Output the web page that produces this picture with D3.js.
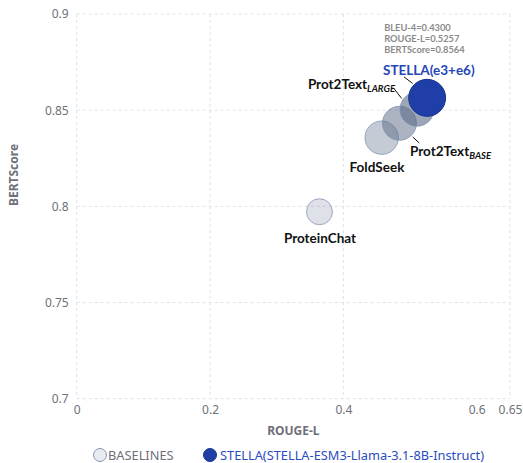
<!DOCTYPE html>
<html><head><meta charset="utf-8">
<script src="https://cdn.jsdelivr.net/npm/d3@7/dist/d3.min.js"></script>
<style>body{margin:0;background:#fff}svg{display:block}</style>
</head><body><svg id="c" width="523" height="463"></svg>
<script>
// ---- data ----
const models = ["ProteinChat", "FoldSeek", "Prot2Text_BASE", "Prot2Text_LARGE", "STELLA(e3+e6)"];
const groups = ["BASELINES", "BASELINES", "BASELINES", "BASELINES", "STELLA"];
const rougeL = [0.3642, 0.4575, 0.4842, 0.5105, 0.5257];
const bertScore = [0.7972, 0.8357, 0.8432, 0.8505, 0.8564];
const bleu4 = [0.066, 0.311, 0.331, 0.331, 0.4300];
const xTicks = [0, 0.2, 0.4, 0.6, 0.65];
const xGrid = [0, 0.2, 0.4, 0.65];
const yTicks = [0.7, 0.75, 0.8, 0.85, 0.9];
const legendLabels = ["BASELINES", "STELLA(STELLA-ESM3-Llama-3.1-8B-Instruct)"];

// ---- layout ----
const svg = d3.select("#c");
const L = 76.7, R = 510, T = 14, B = 398.7;
const x = d3.scaleLinear().domain([0, 0.65]).range([L, R]);
const y = d3.scaleLinear().domain([0.7, 0.9]).range([B, T]);
const r = d3.scaleLinear().domain([0, 0.43]).range([12, 18.5]);
const axisColor = "#6e7079";
const tickFont = "'Noto Sans', sans-serif";
const labelFont = "Lato, 'Open Sans', sans-serif";

// grid
const g = svg.append("g");
g.selectAll(".hg").data(yTicks).join("line")
  .attr("x1", L).attr("x2", R).attr("y1", d => y(d)).attr("y2", d => y(d))
  .attr("stroke", "#dde1ec").attr("stroke-width", 1).attr("stroke-dasharray", "3,3");
g.selectAll(".vg").data(xGrid).join("line")
  .attr("y1", T).attr("y2", B).attr("x1", d => x(d)).attr("x2", d => x(d))
  .attr("stroke", "#dde1ec").attr("stroke-width", 1).attr("stroke-dasharray", "3,3");

// axes via d3 axis
const xAxis = svg.append("g").attr("transform", `translate(0,${B})`)
  .call(d3.axisBottom(x).tickValues(xTicks).tickSize(0).tickPadding(7).tickFormat(d => String(d)));
const yAxis = svg.append("g").attr("transform", `translate(${L},0)`)
  .call(d3.axisLeft(y).tickValues(yTicks).tickSize(0).tickPadding(8).tickFormat(d => String(d)));
[xAxis, yAxis].forEach(a => {
  a.select(".domain").remove();
  a.selectAll("text").attr("fill", axisColor).style("font-family", tickFont).style("font-size", "12px");
});

// axis names
svg.append("text").attr("x", (L + R) / 2).attr("y", 435).attr("text-anchor", "middle")
  .attr("fill", axisColor).style("font-family", tickFont).style("font-size", "12px").style("font-weight", "bold")
  .text("ROUGE-L");
svg.append("text").attr("transform", "translate(18,175) rotate(-90)").attr("text-anchor", "middle")
  .attr("fill", axisColor).style("font-family", tickFont).style("font-size", "12px").style("font-weight", "bold")
  .text("BERTScore");

// bubbles
const idx = d3.range(models.length);
const baseOpacity = [0.2, 0.35, 0.5, 0.6];
const bubbles = svg.append("g");
bubbles.selectAll("circle").data(idx).join("circle")
  .attr("cx", i => x(rougeL[i])).attr("cy", i => y(bertScore[i])).attr("r", i => r(bleu4[i]))
  .attr("fill", i => groups[i] === "STELLA" ? "#1f3ea8" : "rgb(90,106,133)")
  .attr("fill-opacity", i => groups[i] === "STELLA" ? 1 : baseOpacity[i])
  .attr("stroke", i => groups[i] === "STELLA" ? "#1a3590" : "rgba(120,140,175,0.7)")
  .attr("stroke-width", 1);

// labels
const lab = svg.append("g").style("font-family", labelFont).style("font-weight", "bold");
function cx(i) { return x(rougeL[i]); }
function cy(i) { return y(bertScore[i]); }
function leader(i, x1, y1, x2, y2) {
  lab.append("line").attr("x1", cx(i) + x1).attr("y1", cy(i) + y1).attr("x2", cx(i) + x2).attr("y2", cy(i) + y2)
    .attr("stroke", "#111").attr("stroke-width", 1);
}
function modelLabel(i, dx, dy, anchor, main, sub, color) {
  const t = lab.append("text").attr("x", cx(i) + dx).attr("y", cy(i) + dy).attr("text-anchor", anchor)
    .attr("fill", color || "#111").style("font-size", "13.5px");
  t.append("tspan").text(main);
  if (sub) t.append("tspan").attr("dy", 3).style("font-size", "9.5px").style("font-style", "italic").text(sub);
}
modelLabel(0, 0.5, 31.7, "middle", "ProteinChat");
modelLabel(1, -4.7, 34, "middle", "FoldSeek");
modelLabel(2, 10.5, 33, "start", "Prot2Text", "BASE");
leader(2, 13.2, 13.7, 19.8, 19.7);
modelLabel(3, -22, -20, "end", "Prot2Text", "LARGE");
leader(3, -23.7, -21.5, -15.3, -10.7);
modelLabel(4, 1.7, -22.5, "middle", "STELLA(e3+e6)", null, "#2446b8");
leader(4, -23.2, -21, -14.5, -14.4);

// annotation for STELLA
const s = 4;
const ann = [`BLEU-4=${bleu4[s].toFixed(4)}`, `ROUGE-L=${rougeL[s].toFixed(4)}`, `BERTScore=${bertScore[s].toFixed(4)}`];
lab.selectAll(".ann").data(ann).join("text")
  .attr("x", cx(s) - 43).attr("y", (d, k) => cy(s) - 67 + k * 11.2)
  .attr("fill", "#8a8a8a").style("font-size", "9.3px").text(d => d);

// legend
const lg = svg.append("g").style("font-family", tickFont).style("font-size", "12.8px");
lg.append("circle").attr("cx", 100).attr("cy", 455).attr("r", 6.5)
  .attr("fill", "#e6eaf1").attr("stroke", "#8896ad").attr("stroke-width", 1);
lg.append("text").attr("x", 108).attr("y", 459.5).attr("fill", axisColor).text(legendLabels[0]);
lg.append("circle").attr("cx", 210).attr("cy", 455).attr("r", 6.5)
  .attr("fill", "#1f3ea8").attr("stroke", "#1a3590").attr("stroke-width", 1);
lg.append("text").attr("x", 220).attr("y", 459.5).attr("fill", "#2a4cc0").text(legendLabels[1]);
</script></body></html>
